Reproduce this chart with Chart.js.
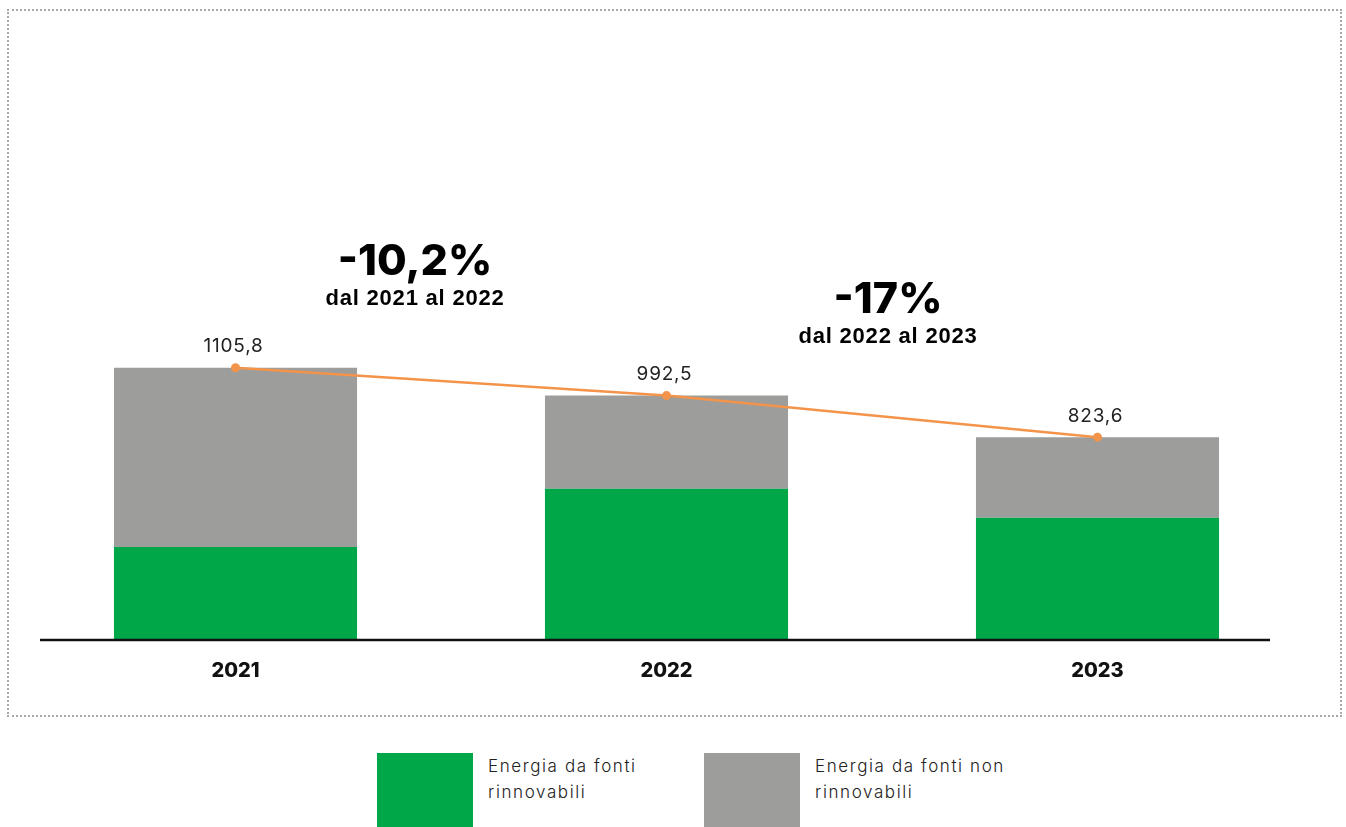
<!DOCTYPE html>
<html>
<head>
<meta charset="utf-8">
<script src="https://cdn.jsdelivr.net/npm/chart.js@4"></script>
<style>
  body { margin: 0; background: #fff; width: 1346px; height: 827px; overflow: hidden; position: relative; font-family: Inter, sans-serif; }
  #frame { position: absolute; left: 7px; top: 9px; width: 1331px; height: 704px; border: 2px dotted #a8a8a8; }
  #wrap { position: absolute; left: 0; top: 0; width: 1346px; height: 700px; }
  .box { position: absolute; top: 753px; width: 96px; height: 74px; }
  .lab { position: absolute; top: 753px; font-size: 17px; line-height: 26px; color: #222; font-weight: 300; letter-spacing: 1.6px; font-family: Inter, sans-serif; }
</style>
</head>
<body>
<div id="frame"></div>
<div id="wrap"><canvas id="grafico"></canvas></div>
<div class="box" style="left:377px;background:#00A748"></div>
<div class="lab" style="left:488px">Energia da fonti<br>rinnovabili</div>
<div class="box" style="left:704px;background:#9D9D9B"></div>
<div class="lab" style="left:815px">Energia da fonti non<br>rinnovabili</div>
<script>
const anni = ['2021', '2022', '2023']
const rinnovabili = [378, 614, 496]
const nonRinnovabili = [727.8, 378.5, 327.6]
const totali = [1105.8, 992.5, 823.6]
const etichetteTotali = ['1105,8', '992,5', '823,6']
const variazioni = [
  { testo: '-10,2%', sotto: 'dal 2021 al 2022', x: 415, y: 262 },
  { testo: '-17%', sotto: 'dal 2022 al 2023', x: 888, y: 300 }
]

const ctx = document.getElementById('grafico').getContext('2d')

// linea di base, etichette dei totali e testi delle variazioni
const extra = {
  id: 'extra',
  afterDatasetsDraw(chart) {
    const c = chart.ctx
    const y0 = chart.scales.y.getPixelForValue(0)
    c.save()
    c.strokeStyle = '#111'
    c.lineWidth = 2.5
    c.beginPath()
    c.moveTo(40, y0)
    c.lineTo(1270, y0)
    c.stroke()

    const pts = chart.getDatasetMeta(2).data
    c.fillStyle = '#222'
    c.font = '400 19px Inter, sans-serif'
    c.letterSpacing = '0.8px'
    c.textAlign = 'center'
    c.textBaseline = 'middle'
    pts.forEach((p, i) => {
      c.fillText(etichetteTotali[i], p.x - 2, p.y - 21)
    })

    c.fillStyle = '#000'
    variazioni.forEach(v => {
      c.letterSpacing = '0px'
      c.font = '800 43px Inter, sans-serif'
      c.fillText(v.testo, v.x, v.y)
      c.letterSpacing = '0.8px'
      c.font = '700 22px "Liberation Sans", Arial, sans-serif'
      c.fillText(v.sotto, v.x, v.y + 37)
    })
    c.restore()
  }
}

const myChart = new Chart(ctx, {
  type: 'bar',
  data: {
    labels: anni,
    datasets: [
      {
        label: 'Energia da fonti rinnovabili',
        data: rinnovabili,
        backgroundColor: '#00A748',
        stack: 's',
        order: 2
      },
      {
        label: 'Energia da fonti non rinnovabili',
        data: nonRinnovabili,
        backgroundColor: '#9D9D9B',
        stack: 's',
        order: 2
      },
      {
        type: 'line',
        label: 'Totale',
        data: totali,
        borderColor: '#F3944A',
        backgroundColor: '#F3944A',
        borderWidth: 2.5,
        pointRadius: 4.5,
        pointBorderWidth: 0,
        stack: 'tot',
        order: 1
      }
    ]
  },
  options: {
    responsive: true,
    maintainAspectRatio: false,
    animation: false,
    layout: { padding: { top: 246, left: 20, right: 33, bottom: 0 } },
    datasets: { bar: { categoryPercentage: 1, barPercentage: 0.564 } },
    plugins: { legend: { display: false }, tooltip: { enabled: false } },
    scales: {
      x: {
        stacked: true,
        grid: { display: false, drawTicks: false },
        border: { display: false },
        ticks: { color: '#111', padding: 19, font: { family: 'Inter, sans-serif', size: 20, weight: '800' } },
        afterFit(scale) { scale.height = 60 }
      },
      y: {
        display: false,
        stacked: true,
        min: 0,
        max: 1600
      }
    }
  },
  plugins: [extra]
})
</script>
</body>
</html>
